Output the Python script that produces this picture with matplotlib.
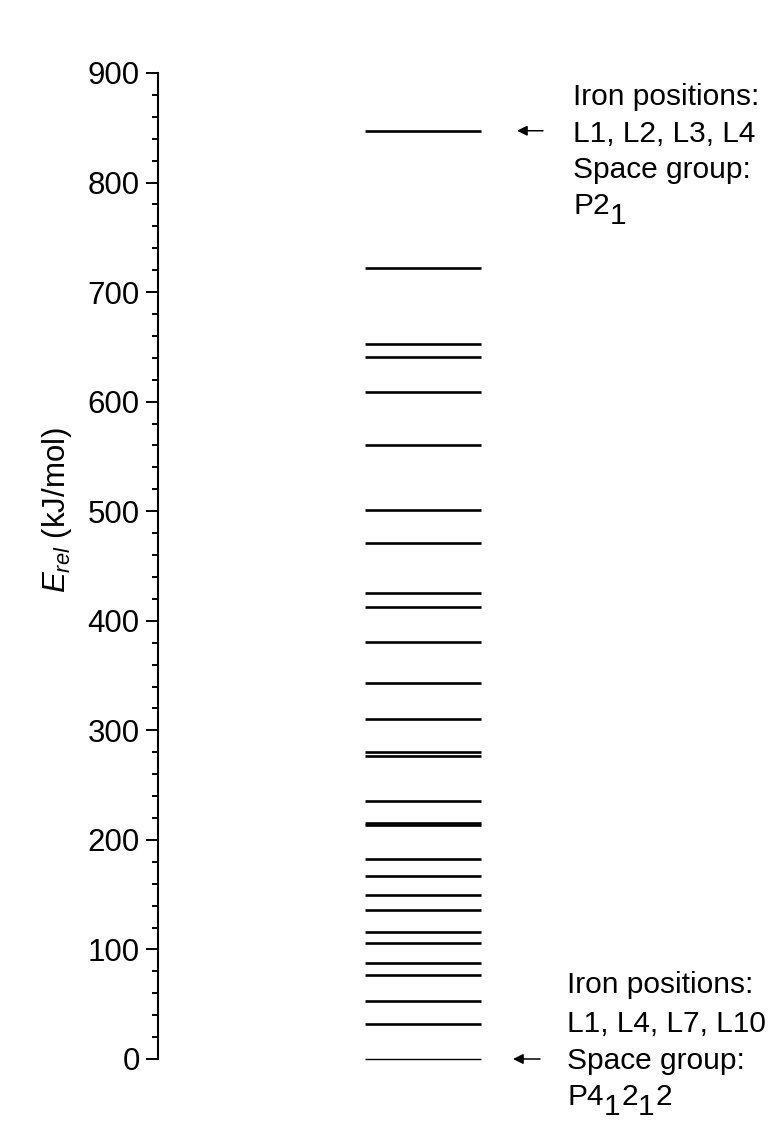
import matplotlib
matplotlib.use("Agg")
import matplotlib.pyplot as plt
import matplotlib.ticker as ticker

plt.rcParams["font.family"] = ["Liberation Sans", "DejaVu Sans"]
plt.rcParams["mathtext.fontset"] = "custom"
plt.rcParams["mathtext.rm"] = "Liberation Sans"
plt.rcParams["mathtext.it"] = "Liberation Sans:italic"

# relative energies of the structures (kJ/mol)
levels = [0, 31.8, 52.8, 76.8, 87.5, 106.0, 115.8, 136.3, 149.5, 166.6,
          182.1, 213.5, 215.2, 235.3, 276.4, 280.1, 310.2, 343.3, 380.8,
          412.7, 425.2, 470.6, 501.0, 560.3, 608.4, 640.4, 652.5, 721.9,
          847.3]
yticks = [0, 100, 200, 300, 400, 500, 600, 700, 800, 900]

top_note = ["Iron positions:", "L1, L2, L3, L4", "Space group:"]
top_group = [("P2", 0), ("1", -1)]
bottom_note = ["Iron positions:", "L1, L4, L7, L10", "Space group:"]
bottom_group = [("P4", 0), ("1", -1), ("2", 0), ("1", -1), ("2", 0)]

W, H = 779, 1122
fig = plt.figure(figsize=(W / 100, H / 100), dpi=100)


def fx(x):
    return x / W


def fy(y):
    return 1 - y / H


ax_left, ax_top, ax_bottom = 158, 73, 1059
ax = fig.add_axes([fx(ax_left), fy(ax_bottom), 1 - fx(ax_left),
                   (ax_bottom - ax_top) / H])
ax.set_xlim(0, 1)
ax.set_ylim(0, 900)

x0 = (365 - ax_left) / (W - ax_left)
x1 = (481 - ax_left) / (W - ax_left)
ax.hlines(levels[1:], x0, x1, color="black", lw=1.9, clip_on=False)
ax.hlines(levels[:1], x0, x1, color="black", lw=1.0, clip_on=False)

for s in ["top", "right", "bottom"]:
    ax.spines[s].set_visible(False)
ax.spines["left"].set_linewidth(1.5)
ax.set_xticks([])
ax.set_yticks(yticks)
ax.yaxis.set_minor_locator(ticker.MultipleLocator(20))
ax.tick_params(axis="y", which="major", length=8.6, width=1.4, labelsize=22.5,
               pad=4.5, direction="out")
ax.tick_params(axis="y", which="minor", length=4.6, width=1.4,
               direction="out")

fig.text(fx(57), fy(510), r"$E_{rel}$ (kJ/mol)", rotation=90, fontsize=22.5,
         ha="center", va="center")

# arrows pointing at the extreme levels
arrow = dict(arrowstyle="-|>", color="black", lw=1.1,
             mutation_scale=15, shrinkA=0, shrinkB=0)
ax.annotate("", xy=((517 - ax_left) / (W - ax_left), levels[-1]),
            xytext=((543 - ax_left) / (W - ax_left), levels[-1]),
            arrowprops=arrow, annotation_clip=False)
ax.annotate("", xy=((513 - ax_left) / (W - ax_left), levels[0]),
            xytext=((540 - ax_left) / (W - ax_left), levels[0]),
            arrowprops=arrow, annotation_clip=False)

fs = 21.5
renderer = fig.canvas.get_renderer()


def note(x, baselines, lines, group):
    for yb, line in zip(baselines, lines):
        fig.text(fx(x), fy(yb), line, fontsize=fs, ha="left", va="baseline")
    # space group symbol with full-size lowered subscripts
    xc = x
    yb = baselines[-1] + 36
    for part, sub in group:
        t = fig.text(fx(xc), fy(yb - sub * 10), part, fontsize=fs,
                     ha="left", va="baseline")
        xc += t.get_window_extent(renderer).width + 0.5


note(573, [105, 141.5, 178], top_note, top_group)
note(567, [993, 1032, 1069], bottom_note, bottom_group)

fig.savefig("out.png", dpi=100)
